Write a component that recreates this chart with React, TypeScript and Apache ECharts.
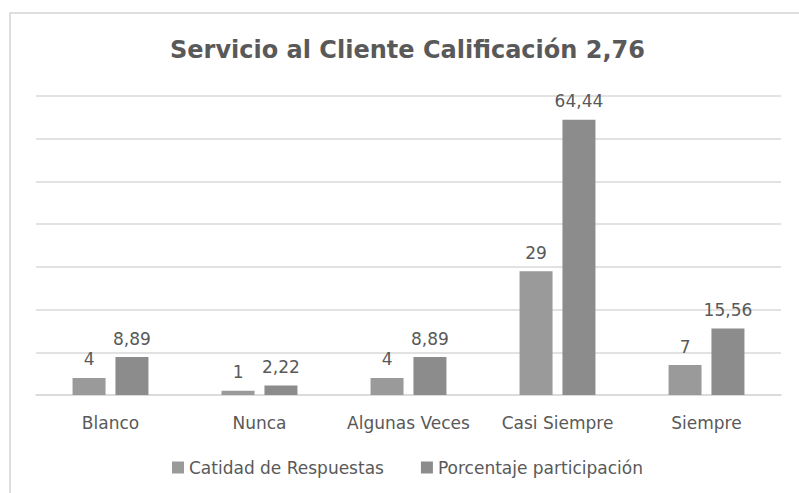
import React, { useEffect, useRef } from "react";
import * as echarts from "echarts";

const titleText = "Servicio al Cliente Calificación 2,76";
const categories = ["Blanco", "Nunca", "Algunas Veces", "Casi Siempre", "Siempre"];
const seriesNames = ["Catidad de Respuestas", "Porcentaje participación"];
const cantidad = [4, 1, 4, 29, 7];
const porcentaje = [8.89, 2.22, 8.89, 64.44, 15.56];
const colors = ["#9a9a9a", "#8c8c8c"];

const FONT = "'DejaVu Sans', 'Open Sans', sans-serif";
const TEXT = "#595959";

export default function App() {
  const ref = useRef<HTMLDivElement>(null);
  useEffect(() => {
    if (!ref.current) return;
    const chart = echarts.init(ref.current, null, { renderer: "svg" });
    const fmt = (p: any) => String(p.value).replace(".", ",");
    chart.setOption({
      animation: false,
      backgroundColor: "#ffffff",
      textStyle: { fontFamily: FONT },
      title: {
        text: titleText,
        left: 165,
        top: 33,
        textStyle: { fontFamily: FONT, fontSize: 24, fontWeight: "bold", color: TEXT },
      },
      graphic: [
        {
          type: "rect",
          shape: { x: 10, y: 13, width: 900, height: 600 },
          style: { fill: "none", stroke: "#d4d4d4", lineWidth: 1.5 },
          silent: true,
        },
      ],
      legend: {
        bottom: 12,
        left: 167,
        itemWidth: 12,
        itemHeight: 12,
        itemGap: 37,
        icon: "rect",
        textStyle: { fontFamily: FONT, fontSize: 17, color: TEXT },
        data: seriesNames,
      },
      grid: { left: 36, right: 18, top: 96, bottom: 98, containLabel: false },
      xAxis: {
        type: "category",
        data: categories,
        axisLine: { lineStyle: { color: "#d9d9d9", width: 1.5 } },
        axisTick: { show: false },
        axisLabel: { interval: 0, hideOverlap: false, fontFamily: FONT, fontSize: 17, color: TEXT, margin: 19 },
      },
      yAxis: {
        type: "value",
        min: 0,
        max: 70,
        interval: 10,
        axisLabel: { show: false },
        axisLine: { show: false },
        axisTick: { show: false },
        splitLine: { lineStyle: { color: "#d9d9d9", width: 1.5 } },
      },
      series: [
        {
          name: seriesNames[0],
          type: "bar",
          data: cantidad,
          itemStyle: { color: colors[0] },
          barWidth: 33,
          barGap: "30%",
          label: { show: true, position: "top", distance: 10, fontFamily: FONT, fontSize: 17, color: TEXT, formatter: fmt },
        },
        {
          name: seriesNames[1],
          type: "bar",
          data: porcentaje,
          itemStyle: { color: colors[1] },
          barWidth: 33,
          label: { show: true, position: "top", distance: 10, fontFamily: FONT, fontSize: 17, color: TEXT, formatter: fmt },
        },
      ],
    });
    return () => chart.dispose();
  }, []);
  return (
    <div
      ref={ref}
      style={{ position: "fixed", left: 0, top: 0, width: 799, height: 493 }}
    />
  );
}
